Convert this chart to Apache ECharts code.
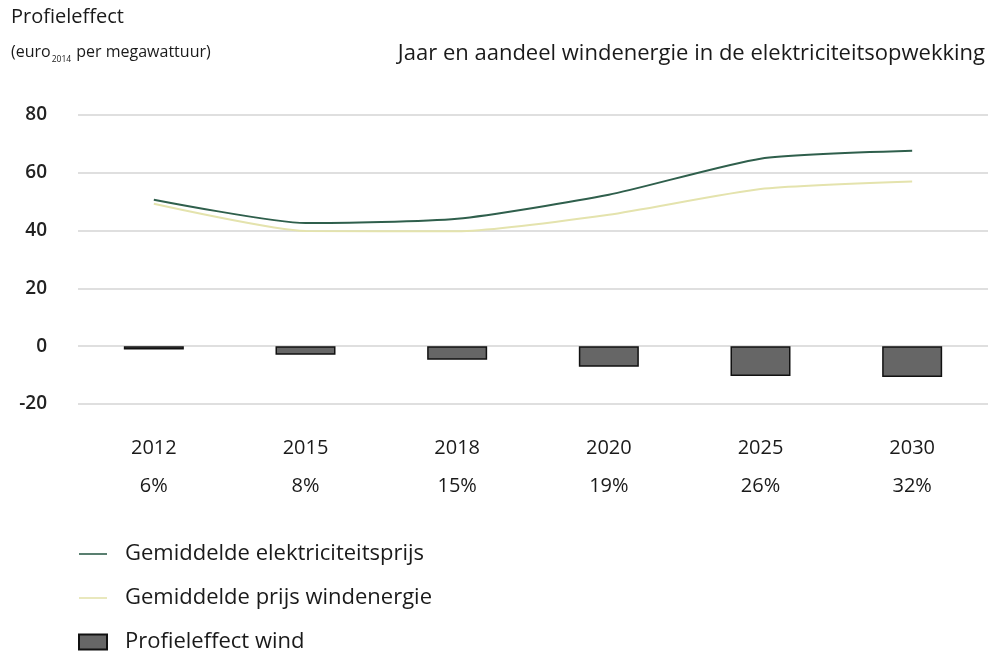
<!DOCTYPE html>
<html>
<head>
<meta charset="utf-8">
<script src="https://cdn.jsdelivr.net/npm/echarts@6/dist/echarts.min.js"></script>
<style>
  html, body { margin: 0; padding: 0; background: #fff; }
  #chart { width: 989px; height: 654px; }
</style>
</head>
<body>
<div id="chart"></div>
<script>
// Years and wind share of electricity generation
const years = ['2012', '2015', '2018', '2020', '2025', '2030'];
const windShare = ['6%', '8%', '15%', '19%', '26%', '32%'];

// Average electricity price (euro2014 per MWh)
const avgElectricityPrice = [50.7, 42.6, 44.1, 52.4, 64.9, 67.6];
// Average price earned by wind energy
const avgWindPrice = [49.3, 39.9, 39.8, 45.5, 54.4, 57.0];
// Profile effect of wind
const profileEffect = [-1.1, -3.0, -4.7, -7.1, -10.3, -10.7];

const yTicks = [-20, 0, 20, 40, 60, 80];

const FONT = '"Open Sans", "Noto Sans", sans-serif';
const TEXT = '#1a1a1a';

const chart = echarts.init(document.getElementById('chart'));

chart.setOption({
  animation: false,
  backgroundColor: '#ffffff',
  textStyle: { fontFamily: FONT, color: TEXT },
  title: [
    {
      text: 'Profieleffect',
      left: 11, top: 7, padding: 0,
      textStyle: { fontFamily: FONT, fontSize: 20, fontWeight: 'normal', color: TEXT }
    },
    {
      text: '{a|(euro}{s|2014}{a| per megawattuur)}',
      left: 11, top: 44, padding: 0,
      textStyle: {
        fontWeight: 'normal',
        rich: {
          a: { fontFamily: FONT, fontSize: 16, fontWeight: 'normal', color: TEXT, verticalAlign: 'bottom' },
          s: { fontFamily: FONT, fontSize: 8.5, fontWeight: 'normal', color: TEXT, verticalAlign: 'bottom', padding: [0, 1, -4, 1] }
        }
      }
    },
    {
      text: 'Jaar en aandeel windenergie in de elektriciteitsopwekking',
      right: 4, top: 43, padding: 0,
      textStyle: { fontFamily: FONT, fontSize: 22, fontWeight: 'normal', color: TEXT }
    }
  ],
  grid: { left: 78, right: 1, top: 115, bottom: 250 },
  legend: {
    orient: 'vertical',
    left: 78, top: 543,
    width: 500, height: 130,
    padding: 0,
    itemWidth: 28, itemHeight: 15,
    itemGap: 22,
    selectedMode: false,
    textStyle: { fontFamily: FONT, fontSize: 22, color: TEXT, padding: [0, 0, 0, 13], lineHeight: 22 },
    data: [
      { name: 'Gemiddelde elektriciteitsprijs', icon: 'path://M0,0H28V1.6H0Z', itemStyle: { color: '#2f5f4c' } },
      { name: 'Gemiddelde prijs windenergie', icon: 'path://M0,0H28V1.6H0Z', itemStyle: { color: '#e4e3ad' } },
      { name: 'Profieleffect wind', icon: 'rect' }
    ]
  },
  xAxis: {
    type: 'category',
    data: years,
    boundaryGap: true,
    axisLine: { show: false },
    axisTick: { show: false },
    axisLabel: {
      margin: 25,
      fontFamily: FONT,
      fontSize: 20,
      color: TEXT,
      lineHeight: 38,
      formatter: (v, i) => v + '\n' + windShare[i]
    }
  },
  yAxis: {
    type: 'value',
    min: yTicks[0],
    max: yTicks[yTicks.length - 1],
    interval: 20,
    axisLine: { show: false },
    axisTick: { show: false },
    axisLabel: {
      margin: 31,
      fontFamily: FONT,
      fontSize: 19,
      fontWeight: 600,
      color: '#222222'
    },
    splitLine: { lineStyle: { color: '#d4d4d4', width: 1.5 } }
  },
  series: [
    {
      name: 'Profieleffect wind',
      type: 'bar',
      data: profileEffect,
      barWidth: 60,
      itemStyle: { color: '#666666', borderColor: '#111111', borderWidth: 1.5 },
      z: 2
    },
    {
      name: 'Gemiddelde prijs windenergie',
      type: 'line',
      data: avgWindPrice,
      smooth: 0.2,
      showSymbol: false,
      symbol: 'none',
      lineStyle: { color: '#e4e3ad', width: 2 },
      itemStyle: { color: '#e4e3ad' },
      z: 3
    },
    {
      name: 'Gemiddelde elektriciteitsprijs',
      type: 'line',
      data: avgElectricityPrice,
      smooth: 0.2,
      showSymbol: false,
      symbol: 'none',
      lineStyle: { color: '#2f5f4c', width: 2 },
      itemStyle: { color: '#2f5f4c' },
      z: 4
    }
  ]
});
</script>
</body>
</html>
